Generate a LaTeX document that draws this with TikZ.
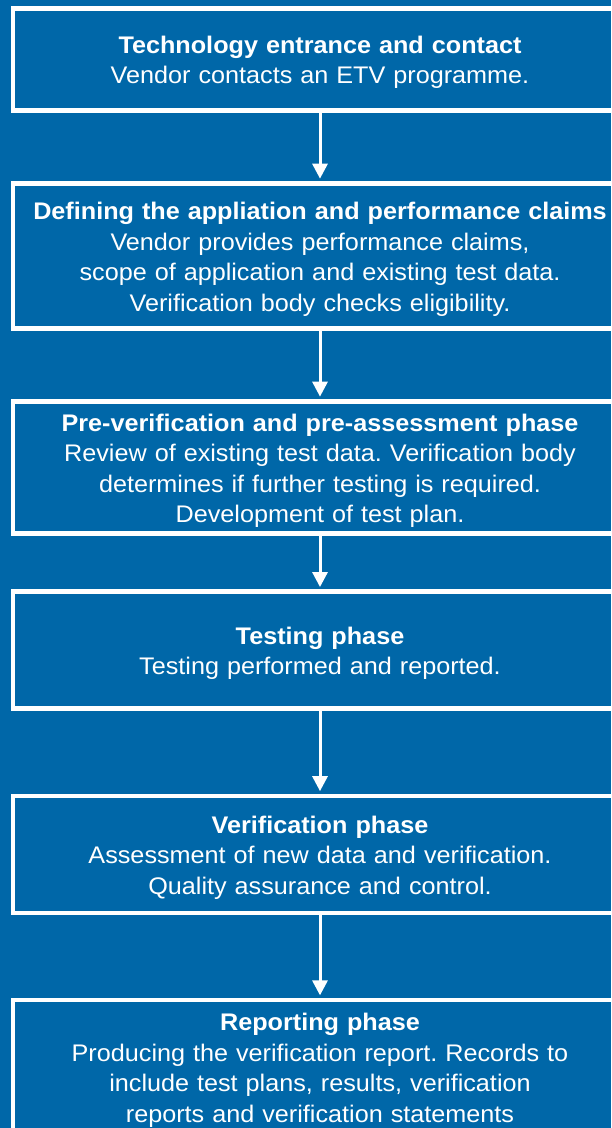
\documentclass[tikz,border=0pt]{standalone}
\usepackage{fontspec}
\setmainfont{Liberation Sans}[FakeStretch=1.05]
\usetikzlibrary{arrows.meta}
\definecolor{bgblue}{HTML}{0067A8}
\newcommand{\topstrut}{\rule{0pt}{23.5pt}}
\tikzset{
  phase/.style={draw=white, line width=4.5pt, rectangle, minimum width=614pt,
    text width=600pt, align=center, inner sep=0pt, text=white,
    font=\fontsize{24}{30.5}\selectfont\frenchspacing},
  flow/.style={draw=white, line width=3pt, -{Triangle[length=15pt,width=15pt]}, shorten >=2.4pt}
}
\begin{document}
\begin{tikzpicture}[x=1pt,y=-1pt]
\fill[bgblue] (0,0) rectangle (611,1128);
\useasboundingbox (0,0) rectangle (611,1128);
\node[phase, minimum height=102pt] (b1) at (320,59.3)
  {\topstrut\textbf{Technology entrance and contact}\\Vendor contacts an ETV programme.};
\node[phase, minimum height=145.4pt] (b2) at (320,256)
  {\topstrut\textbf{Defining the appliation and performance claims}\\Vendor provides performance claims,\\scope of application and existing test data.\\Verification body checks eligibility.};
\node[phase, minimum height=132.4pt] (b3) at (320,467.5)
  {\topstrut\textbf{Pre-verification and pre-assessment phase}\\Review of existing test data. Verification body\\determines if further testing is required.\\Development of test plan.};
\node[phase, minimum height=116.6pt] (b4) at (320,650)
  {\topstrut\textbf{Testing phase}\\Testing performed and reported.};
\node[phase, minimum height=117pt] (b5) at (320,854.3)
  {\topstrut\textbf{Verification phase}\\Assessment of new data and verification.\\Quality assurance and control.};
\node[phase, minimum height=134pt] (b6) at (320,1067)
  {\topstrut\textbf{Reporting phase}\\Producing the verification report. Records to\\include test plans, results, verification\\reports and verification statements};
\draw[flow] (b1.south) -- (b2.north);
\draw[flow] (b2.south) -- (b3.north);
\draw[flow] (b3.south) -- (b4.north);
\draw[flow] (b4.south) -- (b5.north);
\draw[flow] (b5.south) -- (b6.north);
\end{tikzpicture}
\end{document}
